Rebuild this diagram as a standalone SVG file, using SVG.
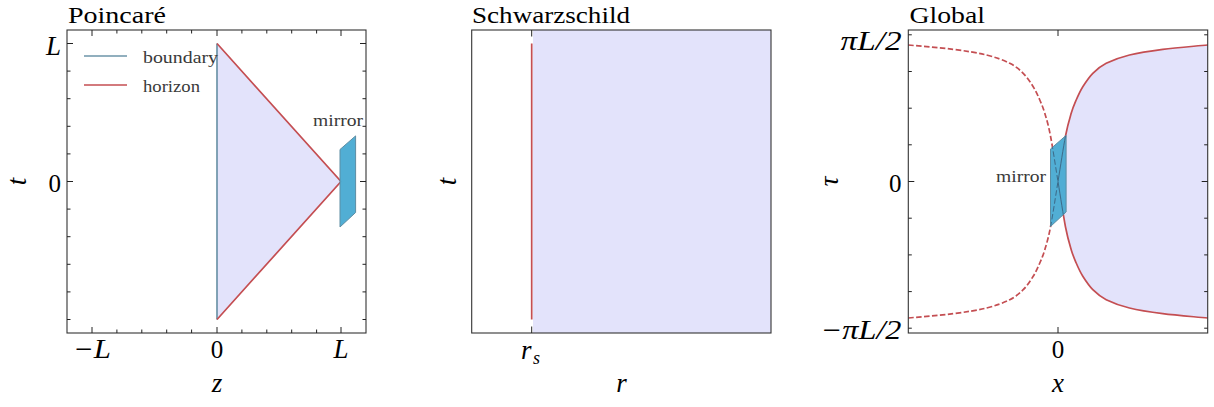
<svg xmlns="http://www.w3.org/2000/svg" xmlns:xlink="http://www.w3.org/1999/xlink" width="1214" height="407" viewBox="0 0 1214 407">
<style>
.title{font-family:"Liberation Serif",serif;font-size:24px;fill:#000}
.leg{font-family:"Liberation Serif",serif;font-size:17px;fill:#3a3a3a}
.math{font-family:"Liberation Serif",serif;font-style:italic;font-size:27px;fill:#000}
.num{font-family:"Liberation Serif",serif;font-size:25px;fill:#000}
.frame{fill:none;stroke:#333;stroke-width:1.1}
.tick{stroke:#222;stroke-width:1}
.fill{fill:#e3e3fb;stroke:none}
.hor{fill:none;stroke:#c44e52;stroke-width:1.7}
.dash{fill:none;stroke:#c44e52;stroke-width:1.7;stroke-dasharray:5.5 2.4}
.bnd{fill:none;stroke:#6d94a8;stroke-width:1.7}
.mir{fill:#4babd3;stroke:#5d8da3;stroke-width:1;fill-opacity:0.97}
.inner{fill:none;stroke:#3d6c8a;stroke-width:1}
</style>
<defs>
<path id="mirrorShape" d="M0,0 L15.6,-13.6 L15.6,63 L0,77.5 Z"/>
<clipPath id="mclip"><path d="M1050.5,149 L1066.1,135.4 L1066.1,212 L1050.5,226.5 Z"/></clipPath>
<path id="solidCurve" d="M1207.7,45 C1192.7,46.4 1175.8,47.6 1162.8,49.3 C1149.8,51 1138.9,52.7 1129.5,55 C1120.1,57.3 1112.3,60.3 1106.2,63.3 C1100.1,66.4 1096.7,69.4 1092.8,73.3 C1088.9,77.2 1085.6,82.3 1082.8,86.7 C1080,91.2 1078.1,95.6 1076.2,100 C1074.3,104.4 1073,107.3 1071.2,113.3 C1069.4,119.3 1067.7,124.6 1065.5,136 C1063.3,147.4 1060.5,166.3 1058,181.5 C1060.5,196.7 1063.3,215.6 1065.5,227 C1067.7,238.4 1069.4,243.7 1071.2,249.7 C1073,255.7 1074.3,258.6 1076.2,263 C1078.1,267.4 1080,271.8 1082.8,276.3 C1085.6,280.7 1088.9,285.8 1092.8,289.7 C1096.7,293.6 1100.1,296.6 1106.2,299.7 C1112.3,302.7 1120.1,305.7 1129.5,308 C1138.9,310.3 1149.8,312 1162.8,313.7 C1175.8,315.4 1192.7,316.6 1207.7,318"/>
<path id="dashCurve" d="M908.3,45 C923.3,46.4 940.2,47.6 953.2,49.3 C966.2,51 977.1,52.7 986.5,55 C995.9,57.3 1003.7,60.3 1009.8,63.3 C1015.9,66.4 1019.3,69.4 1023.2,73.3 C1027.1,77.2 1030.4,82.3 1033.2,86.7 C1036,91.2 1037.9,95.6 1039.8,100 C1041.7,104.4 1043,107.3 1044.8,113.3 C1046.6,119.3 1048.3,124.6 1050.5,136 C1052.7,147.4 1055.5,166.3 1058,181.5 C1055.5,196.7 1052.7,215.6 1050.5,227 C1048.3,238.4 1046.6,243.7 1044.8,249.7 C1043,255.7 1041.7,258.6 1039.8,263 C1037.9,267.4 1036,271.8 1033.2,276.3 C1030.4,280.7 1027.1,285.8 1023.2,289.7 C1019.3,293.6 1015.9,296.6 1009.8,299.7 C1003.7,302.7 995.9,305.7 986.5,308 C977.1,310.3 966.2,312 953.2,313.7 C940.2,315.4 923.3,316.6 908.3,318"/>
</defs>

<!-- Panel 1: Poincare -->
<g id="poincare">
<text class="title" x="68" y="23" textLength="98" lengthAdjust="spacingAndGlyphs">Poincaré</text>
<polygon class="fill" points="217,43.5 341,181.5 217,319.5"/>
<line class="bnd" x1="217" y1="43.5" x2="217" y2="319.5"/>
<polyline class="hor" points="217,43.5 341,181.5 217,319.5"/>
<rect class="frame" x="67" y="30" width="299" height="303"/>
<g class="tick">
<path d="M67,43.5h6M67,181.5h6M366,43.5h-6M366,181.5h-6"/>
<path d="M67,71.1h3.5M67,98.7h3.5M67,126.3h3.5M67,153.9h3.5M67,209.1h3.5M67,236.7h3.5M67,264.3h3.5M67,291.9h3.5M67,319.5h3.5"/>
<path d="M366,71.1h-3.5M366,98.7h-3.5M366,126.3h-3.5M366,153.9h-3.5M366,209.1h-3.5M366,236.7h-3.5M366,264.3h-3.5M366,291.9h-3.5M366,319.5h-3.5"/>
<path d="M92,333v-6M217,333v-6M341,333v-6M92,30v6M217,30v6M341,30v6"/>
<path d="M116.9,333v-3.5M141.8,333v-3.5M166.7,333v-3.5M191.6,333v-3.5M241.9,333v-3.5M266.8,333v-3.5M291.7,333v-3.5M316.6,333v-3.5"/>
<path d="M116.9,30v3.5M141.8,30v3.5M166.7,30v3.5M191.6,30v3.5M241.9,30v3.5M266.8,30v3.5M291.7,30v3.5M316.6,30v3.5"/>
</g>
<text class="math" x="61" y="55" text-anchor="end">L</text>
<text class="num" x="61" y="192" text-anchor="end">0</text>
<text class="math" x="92" y="358" text-anchor="middle" textLength="38" lengthAdjust="spacingAndGlyphs">−L</text>
<text class="num" x="217" y="358" text-anchor="middle">0</text>
<text class="math" x="341" y="358" text-anchor="middle">L</text>
<text class="math" x="217" y="392" text-anchor="middle">z</text>
<text class="math" transform="translate(26,181.5) rotate(-90)" text-anchor="middle">t</text>
<line x1="84" y1="56" x2="127" y2="56" stroke="#6d94a8" stroke-width="1.7"/>
<line x1="84" y1="85" x2="127" y2="85" stroke="#c44e52" stroke-width="1.7"/>
<text class="leg" x="143" y="63" textLength="75" lengthAdjust="spacingAndGlyphs">boundary</text>
<text class="leg" x="143" y="92" textLength="57" lengthAdjust="spacingAndGlyphs">horizon</text>
</g>
<g id="mirror-left">
<use xlink:href="#mirrorShape" href="#mirrorShape" class="mir" transform="translate(340,149.5)"/>
<text class="leg" x="313" y="126" textLength="50" lengthAdjust="spacingAndGlyphs">mirror</text>
</g>

<!-- Panel 2: Schwarzschild -->
<g id="schwarzschild">
<text class="title" x="472" y="23" textLength="158" lengthAdjust="spacingAndGlyphs">Schwarzschild</text>
<rect class="fill" x="533" y="30" width="238" height="303"/>
<line class="hor" x1="531.7" y1="43.5" x2="531.7" y2="319.5"/>
<rect class="frame" x="471.7" y="30" width="299.3" height="303"/>
<path class="tick" d="M531.7,30v6.5M531.7,333v-6.5" stroke-width="1.3"/>
<text class="math" x="521" y="359">r</text>
<text class="math" x="533" y="364" style="font-size:18px">s</text>
<text class="math" x="621.5" y="392" text-anchor="middle">r</text>
<text class="math" transform="translate(456,181.5) rotate(-90)" text-anchor="middle">t</text>
</g>

<!-- Panel 3: Global -->
<g id="global">
<text class="title" x="909.5" y="23" textLength="75.5" lengthAdjust="spacingAndGlyphs">Global</text>
<path class="fill" d="M1207.7,45 C1192.7,46.4 1175.8,47.6 1162.8,49.3 C1149.8,51 1138.9,52.7 1129.5,55 C1120.1,57.3 1112.3,60.3 1106.2,63.3 C1100.1,66.4 1096.7,69.4 1092.8,73.3 C1088.9,77.2 1085.6,82.3 1082.8,86.7 C1080,91.2 1078.1,95.6 1076.2,100 C1074.3,104.4 1073,107.3 1071.2,113.3 C1069.4,119.3 1067.7,124.6 1065.5,136 C1063.3,147.4 1060.5,166.3 1058,181.5 C1060.5,196.7 1063.3,215.6 1065.5,227 C1067.7,238.4 1069.4,243.7 1071.2,249.7 C1073,255.7 1074.3,258.6 1076.2,263 C1078.1,267.4 1080,271.8 1082.8,276.3 C1085.6,280.7 1088.9,285.8 1092.8,289.7 C1096.7,293.6 1100.1,296.6 1106.2,299.7 C1112.3,302.7 1120.1,305.7 1129.5,308 C1138.9,310.3 1149.8,312 1162.8,313.7 C1175.8,315.4 1192.7,316.6 1207.7,318 Z"/>
<use xlink:href="#solidCurve" href="#solidCurve" class="hor"/>
<use xlink:href="#dashCurve" href="#dashCurve" class="dash"/>
<rect class="frame" x="908.3" y="30" width="299.4" height="303"/>
<g class="tick">
<path d="M908.3,181.5h6M1207.7,181.5h-6M1058,333v-6M1058,30v6"/>
<path d="M908.3,34.8h3.5M908.3,71.5h3.5M908.3,108.2h3.5M908.3,144.8h3.5M908.3,218.2h3.5M908.3,254.9h3.5M908.3,291.6h3.5M908.3,328.2h3.5"/>
<path d="M1207.7,34.8h-3.5M1207.7,71.5h-3.5M1207.7,108.2h-3.5M1207.7,144.8h-3.5M1207.7,218.2h-3.5M1207.7,254.9h-3.5M1207.7,291.6h-3.5M1207.7,328.2h-3.5"/>
</g>
<text class="math" x="901.5" y="50" text-anchor="end" textLength="61" lengthAdjust="spacingAndGlyphs">πL/2</text>
<text class="num" x="901.5" y="192" text-anchor="end">0</text>
<text class="math" x="901.5" y="339" text-anchor="end" textLength="81" lengthAdjust="spacingAndGlyphs">−πL/2</text>
<text class="num" x="1058" y="358" text-anchor="middle">0</text>
<text class="math" x="1058" y="392" text-anchor="middle">x</text>
<text class="math" transform="translate(838,181.5) rotate(-90)" text-anchor="middle">τ</text>
</g>
<g id="mirror-right">
<use xlink:href="#mirrorShape" href="#mirrorShape" class="mir" transform="translate(1050.5,149)"/>
<g clip-path="url(#mclip)">
<use xlink:href="#solidCurve" href="#solidCurve" class="inner"/>
<use xlink:href="#dashCurve" href="#dashCurve" class="inner" stroke-dasharray="5.5 2.4"/>
</g>
<text class="leg" x="996" y="182" textLength="50" lengthAdjust="spacingAndGlyphs">mirror</text>
</g>
</svg>
